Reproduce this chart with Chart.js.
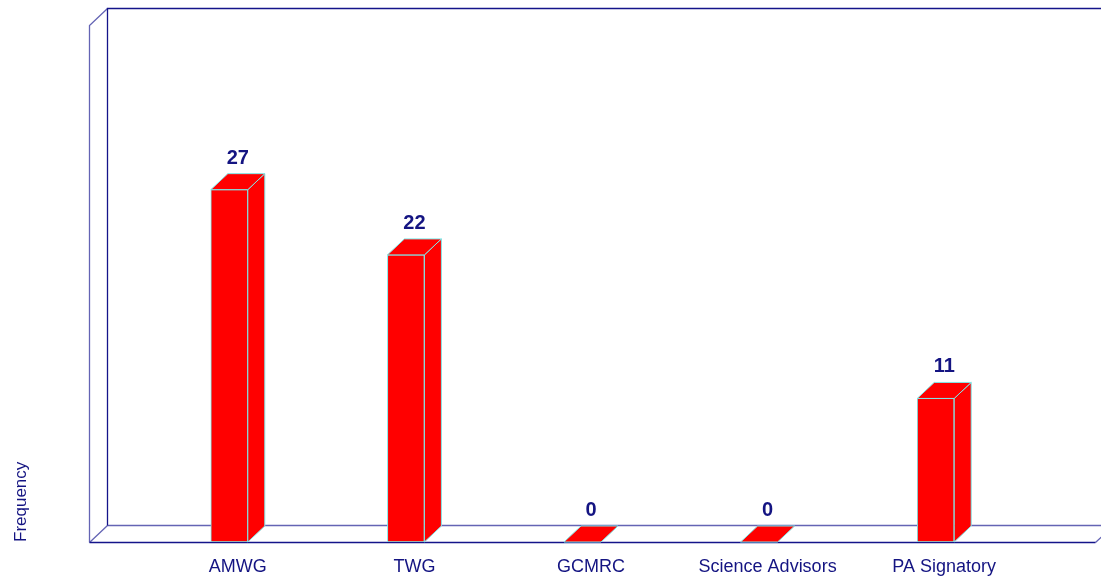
<!DOCTYPE html>
<html><head><meta charset="utf-8">
<script src="https://cdn.jsdelivr.net/npm/chart.js@4"></script>
<style>html,body{margin:0;padding:0;background:#fff;overflow:hidden}#wrap{width:1101px;height:579px;position:relative}</style>
</head><body><div id="wrap"><canvas id="c"></canvas></div>
<script>
const categories = ['AMWG', 'TWG', 'GCMRC', 'Science Advisors', 'PA Signatory'];
const frequency = [27, 22, 0, 0, 11];
const yAxisTitle = 'Frequency';
const yMin = 0;
const yMax = 40;

const DX = 17, DY = 16;       // bar depth
const FDX = 18, FDY = 17;     // frame depth
const darkLine = '#14148a';
const lightLine = '#6464b4';
const edge = '#7fe8e8';
const red = '#ff0000';
const textColor = '#141482';

const framePlugin = {
  id: 'frame3d',
  beforeDatasetsDraw(chart) {
    const ctx = chart.ctx, a = chart.chartArea;
    const L = Math.round(a.left - 52) + 0.5, R = Math.round(a.right + 71) + 0.5;
    const T = Math.round(a.top + 5) + 0.5, B = Math.round(a.bottom) + 0.5;
    ctx.save();
    ctx.lineWidth = 1.3;
    ctx.strokeStyle = lightLine;
    ctx.beginPath();
    ctx.moveTo(L + FDX, B - FDY); ctx.lineTo(R + FDX, B - FDY);
    ctx.moveTo(L, B); ctx.lineTo(L + FDX, B - FDY);
    ctx.moveTo(L, B); ctx.lineTo(L, T);
    ctx.lineTo(L + FDX, T - FDY);
    ctx.moveTo(R, B); ctx.lineTo(R + FDX, B - FDY);
    ctx.stroke();
    ctx.lineWidth = 1.3;
    ctx.strokeStyle = darkLine;
    ctx.beginPath();
    ctx.moveTo(L + FDX, B - FDY); ctx.lineTo(L + FDX, T - FDY); ctx.lineTo(R + FDX + 20, T - FDY);
    ctx.moveTo(L, B); ctx.lineTo(R, B);
    ctx.stroke();
    ctx.restore();
  }
};

const depthPlugin = {
  id: 'depth3d',
  afterDatasetsDraw(chart) {
    const ctx = chart.ctx;
    const meta = chart.getDatasetMeta(0);
    ctx.save();
    meta.data.forEach((bar, i) => {
      const p = bar.getProps(['x', 'y', 'base', 'width'], true);
      const x1 = p.x - p.width / 2, x2 = p.x + p.width / 2;
      const top = Math.min(p.y, p.base), base = Math.max(p.y, p.base);
      ctx.lineWidth = 1;
      ctx.strokeStyle = edge;
      ctx.fillStyle = red;
      if (base - top > 0.5) {
        ctx.beginPath();
        ctx.moveTo(x2, top); ctx.lineTo(x2 + DX, top - DY);
        ctx.lineTo(x2 + DX, base - DY); ctx.lineTo(x2, base); ctx.closePath();
        ctx.fill(); ctx.stroke();
      }
      ctx.beginPath();
      ctx.moveTo(x1, top); ctx.lineTo(x2, top);
      ctx.lineTo(x2 + DX, top - DY); ctx.lineTo(x1 + DX, top - DY); ctx.closePath();
      ctx.fill(); ctx.stroke();
      ctx.fillStyle = textColor;
      ctx.font = 'bold 20px "Liberation Sans", Arial, sans-serif';
      ctx.textAlign = 'center';
      ctx.textBaseline = 'alphabetic';
      ctx.fillText(String(frequency[i]), p.x + DX / 2, top - DY - 10);
    });
    ctx.restore();
  }
};

new Chart(document.getElementById('c'), {
  type: 'bar',
  data: {
    labels: categories,
    datasets: [{
      data: frequency,
      backgroundColor: red,
      borderColor: edge,
      borderWidth: 1,
      borderSkipped: false,
      barThickness: 37
    }]
  },
  options: {
    responsive: true,
    maintainAspectRatio: false,
    animation: false,
    devicePixelRatio: 1,
    layout: { padding: { top: 20, right: 77, left: 0, bottom: 0 } },
    plugins: { legend: { display: false }, tooltip: { enabled: false } },
    scales: {
      x: {
        grid: { display: false },
        border: { display: false },
        ticks: {
          color: textColor,
          font: { family: '"Liberation Sans", Arial, sans-serif', size: 18 },
          padding: 6,
          labelOffset: 8.5,
          maxRotation: 0,
          autoSkip: false
        },
        afterFit(s) { s.height = 37; }
      },
      y: {
        min: yMin,
        max: yMax,
        grid: { display: false },
        border: { display: false },
        ticks: { display: false },
        title: {
          display: true,
          text: yAxisTitle,
          align: 'start',
          color: textColor,
          font: { family: '"Liberation Sans", Arial, sans-serif', size: 17 },
          padding: { top: 11, bottom: 0 }
        },
        afterFit(s) { s.width = 141; }
      }
    }
  },
  plugins: [framePlugin, depthPlugin]
});
</script>
</body></html>
